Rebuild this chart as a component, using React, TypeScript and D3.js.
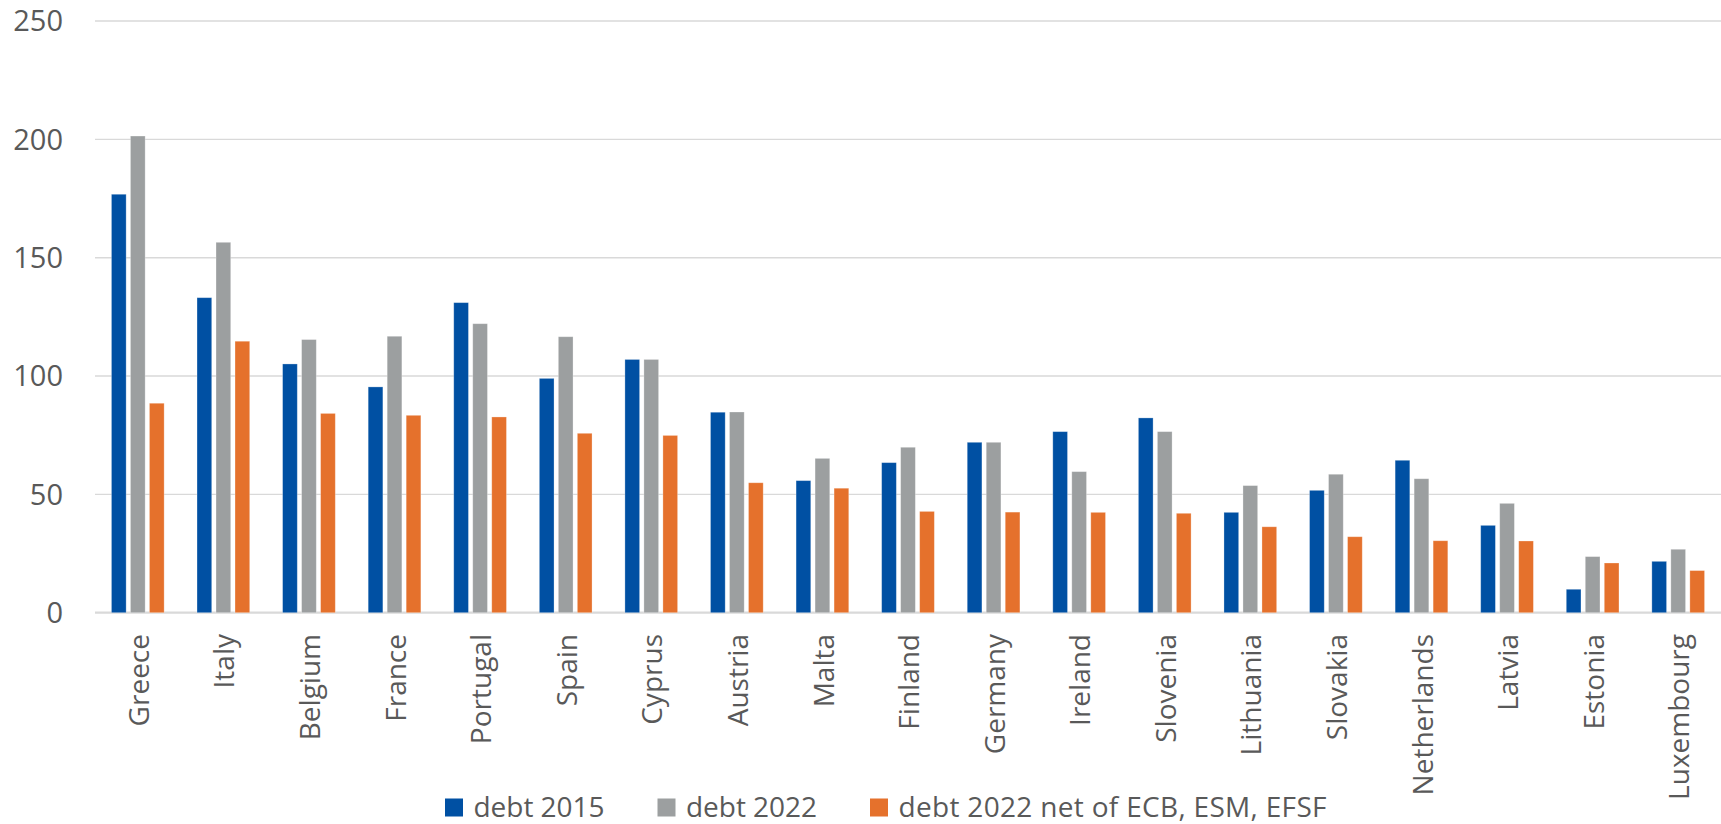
import React from "react";
import * as d3 from "d3";

// Government debt, % of GDP, by euro-area country
const countries = [
  "Greece", "Italy", "Belgium", "France", "Portugal", "Spain", "Cyprus", "Austria",
  "Malta", "Finland", "Germany", "Ireland", "Slovenia", "Lithuania", "Slovakia",
  "Netherlands", "Latvia", "Estonia", "Luxembourg",
];
const debt2015 = [176.8, 133.1, 105.1, 95.4, 131.0, 99.0, 107.0, 84.7, 55.8, 63.4, 72.0, 76.5, 82.3, 42.4, 51.7, 64.4, 36.9, 9.9, 21.7];
const debt2022 = [201.4, 156.5, 115.4, 116.8, 122.1, 116.6, 107.0, 84.8, 65.2, 69.9, 72.0, 59.6, 76.5, 53.7, 58.5, 56.6, 46.2, 23.7, 26.8];
const debt2022Net = [88.5, 114.7, 84.2, 83.4, 82.7, 75.8, 74.9, 54.9, 52.6, 42.8, 42.5, 42.4, 42.0, 36.3, 32.1, 30.4, 30.3, 21.0, 17.8];
const seriesNames = ["debt 2015", "debt 2022", "debt 2022 net of ECB, ESM, EFSF"];
const yTicks = [0, 50, 100, 150, 200, 250];

const colors = ["#0050A3", "#9C9FA0", "#E5712C"];
const textColor = "#595959";
const gridColor = "#D9D9D9";
const font = "'Open Sans', 'DejaVu Sans', sans-serif";

const W = 1721;
const H = 824;
const plot = { left: 95, right: 1721, top: 21, bottom: 612.7 };

// legend label widths in px
const legendLabelWidth = [131, 131, 428];

export default function App() {
  const series = [debt2015, debt2022, debt2022Net];

  const x0 = d3.scaleBand<string>().domain(countries).range([plot.left, plot.right]).padding(0);
  const x1 = d3
    .scaleBand<number>()
    .domain([0, 1, 2])
    .range([-26.35, 26.35])
    .paddingInner(0.2263)
    .paddingOuter(0);
  const y = d3.scaleLinear().domain([0, 250]).range([plot.bottom, plot.top]);

  // legend layout: swatch, gap, label, then spacing to next item
  const legendFontSize = 28;
  const swatch = 18;
  const swatchGap = 10.5;
  const itemGap = 53;
  const legendStart = 445;
  let cursor = legendStart;
  const legendItems = seriesNames.map((name, i) => {
    const item = { name, i, x: cursor };
    cursor += swatch + swatchGap + legendLabelWidth[i] + itemGap;
    return item;
  });

  return (
    <svg
      width={W}
      height={H}
      style={{ position: "absolute", left: 0, top: 0, background: "#fff" }}
      fontFamily={font}
    >
      {/* horizontal gridlines and tick labels */}
      {yTicks.map((t) => (
        <g key={t}>
          <line
            x1={plot.left}
            x2={plot.right}
            y1={y(t)}
            y2={y(t)}
            stroke={gridColor}
            strokeWidth={t === 0 ? 2.2 : 1.4}
          />
          <text
            x={63}
            y={y(t)}
            dy="0.36em"
            textAnchor="end"
            fontSize={29}
            fill={textColor}
          >
            {t}
          </text>
        </g>
      ))}

      {/* grouped bars */}
      {countries.map((c, ci) => (
        <g key={c} transform={`translate(${x0(c)! + x0.bandwidth() / 2},0)`}>
          {series.map((vals, si) => (
            <rect
              key={si}
              x={x1(si)!}
              y={y(vals[ci])}
              width={x1.bandwidth()}
              height={y(0) - y(vals[ci])}
              fill={colors[si]}
              stroke="#ffffff"
              strokeOpacity={0.35}
              strokeWidth={0.8}
            />
          ))}
        </g>
      ))}

      {/* rotated category labels */}
      {countries.map((c) => {
        const cx = x0(c)! + x0.bandwidth() / 2 + 1;
        const ty = 634;
        return (
          <text
            key={c}
            transform={`translate(${cx},${ty}) rotate(-90)`}
            dy="0.36em"
            textAnchor="end"
            fontSize={28}
            fill={textColor}
          >
            {c}
          </text>
        );
      })}

      {/* legend */}
      {legendItems.map((it) => (
        <g key={it.name} transform={`translate(${it.x},0)`}>
          <rect x={0} y={798.5} width={swatch} height={swatch} fill={colors[it.i]} />
          <text
            x={swatch + swatchGap}
            y={816.7}
            fontSize={legendFontSize}
            fill={textColor}
            textLength={legendLabelWidth[it.i]}
            lengthAdjust="spacing"
          >
            {it.name}
          </text>
        </g>
      ))}
    </svg>
  );
}
